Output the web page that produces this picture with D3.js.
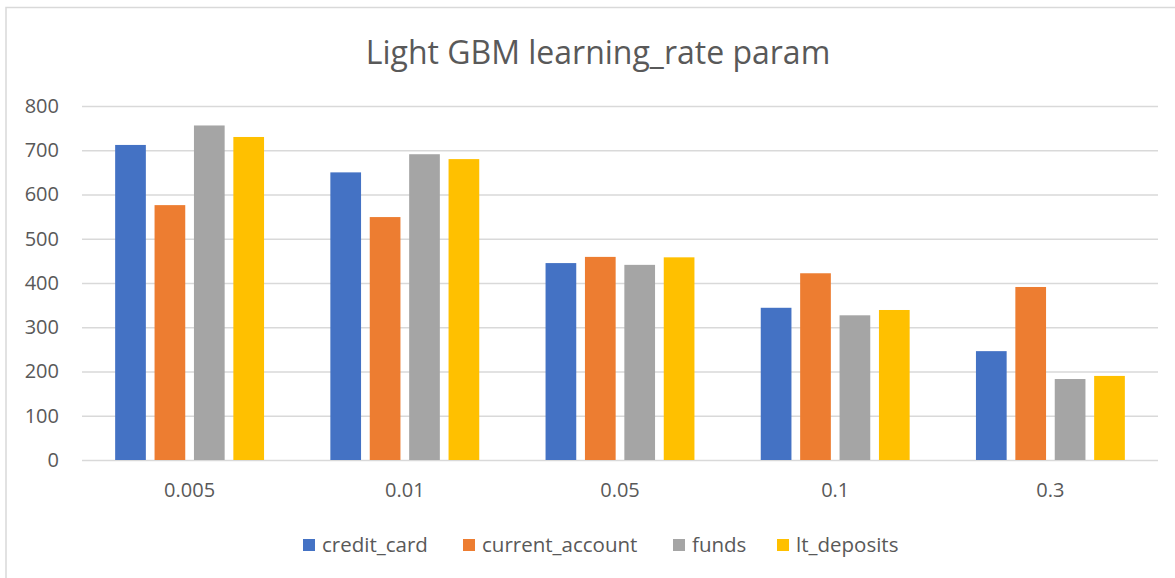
<!DOCTYPE html>
<html>
<head>
<meta charset="utf-8">
<script src="https://cdn.jsdelivr.net/npm/d3@7"></script>
<style>
	body { margin: 0; background: #fff; }
	svg text { font-family: "Open Sans", "Liberation Sans", sans-serif; fill: #595959; }
</style>
</head>
<body>
<svg id="chart" width="1175" height="578"></svg>
<script>
var categories = ["0.005", "0.01", "0.05", "0.1", "0.3"];
var seriesNames = ["credit_card", "current_account", "funds", "lt_deposits"];
var creditCard = [712, 650, 445, 344, 246];
var currentAccount = [576, 549, 459, 422, 391];
var funds = [756, 691, 441, 327, 183];
var ltDeposits = [730, 680, 458, 339, 190];
var yTicks = [0, 100, 200, 300, 400, 500, 600, 700, 800];
var colors = ["#4472C4", "#ED7D31", "#A5A5A5", "#FFC000"];

var Chart = {
	plot: { left: 82, right: 1158, top: 106, bottom: 460 },
	barWidth: 30.7,
	barGap: 8.7,

	draw: function() {
		var self = this;
		var svg = d3.select("#chart");
		var seriesValues = [creditCard, currentAccount, funds, ltDeposits];

		// chart border (only top and left visible)
		svg.append("rect")
			.attr("x", 6)
			.attr("y", 7.5)
			.attr("width", 1200)
			.attr("height", 600)
			.style("fill", "none")
			.style("stroke", "#d9d9d9")
			.style("stroke-width", 1.5);

		// title
		svg.append("text")
			.attr("x", 598)
			.attr("y", 64)
			.style("text-anchor", "middle")
			.style("font-size", "32px")
			.text("Light GBM learning_rate param");

		var y = d3.scaleLinear()
			.domain([0, 800])
			.range([self.plot.bottom, self.plot.top]);

		var x0 = d3.scaleBand()
			.domain(categories)
			.range([self.plot.left, self.plot.right])
			.padding(0);

		var groupWidth = seriesNames.length * self.barWidth + (seriesNames.length - 1) * self.barGap;
		var x1 = d3.scaleBand()
			.domain(seriesNames)
			.range([0, groupWidth])
			.paddingInner(self.barGap / (self.barWidth + self.barGap))
			.paddingOuter(0);
		var groupOffset = (x0.bandwidth() - groupWidth) / 2;

		// gridlines + y labels
		var yAxis = d3.axisLeft(y)
			.tickValues(yTicks)
			.tickSize(-(self.plot.right - self.plot.left))
			.tickPadding(23);

		var yAxisG = svg.append("g")
			.attr("transform", "translate(" + self.plot.left + ",0)")
			.call(yAxis);
		yAxisG.select(".domain").remove();
		yAxisG.selectAll(".tick line")
			.style("stroke", "#d9d9d9")
			.style("stroke-width", 1.5);
		yAxisG.selectAll(".tick text")
			.style("font-size", "20px")
			.style("fill", "#595959")
			.style("font-family", "\"Open Sans\", sans-serif");

		// bars
		var groups = svg.selectAll(".group")
			.data(categories)
			.enter()
			.append("g")
			.attr("class", "group")
			.attr("transform", function(d) {
				return "translate(" + (x0(d) + groupOffset) + ",0)";
			});

		groups.selectAll("rect")
			.data(function(d, i) {
				return seriesNames.map(function(s, j) {
					return { series: s, value: seriesValues[j][i], color: colors[j] };
				});
			})
			.enter()
			.append("rect")
			.attr("x", function(d) { return x1(d.series); })
			.attr("y", function(d) { return y(d.value); })
			.attr("width", x1.bandwidth())
			.attr("height", function(d) { return y(0) - y(d.value); })
			.style("fill", function(d) { return d.color; });

		// x labels
		var xAxis = d3.axisBottom(x0)
			.tickSize(0)
			.tickPadding(23);

		var xAxisG = svg.append("g")
			.attr("transform", "translate(0," + self.plot.bottom + ")")
			.call(xAxis);
		xAxisG.select(".domain").remove();
		xAxisG.selectAll(".tick text")
			.style("font-size", "20px")
			.style("fill", "#595959")
			.style("font-family", "\"Open Sans\", sans-serif");

		// legend
		var legendX = [303, 463, 673, 777];
		var legend = svg.selectAll(".legend")
			.data(seriesNames)
			.enter()
			.append("g")
			.attr("class", "legend")
			.attr("transform", function(d, i) {
				return "translate(" + legendX[i] + ",545)";
			});

		legend.append("rect")
			.attr("x", 0)
			.attr("y", -6)
			.attr("width", 12)
			.attr("height", 12)
			.style("fill", function(d, i) { return colors[i]; });

		legend.append("text")
			.attr("x", 19)
			.attr("y", 0)
			.attr("dy", "0.35em")
			.style("font-size", "20.5px")
			.text(function(d) { return d; });
	}
};

Chart.draw();
</script>
</body>
</html>
